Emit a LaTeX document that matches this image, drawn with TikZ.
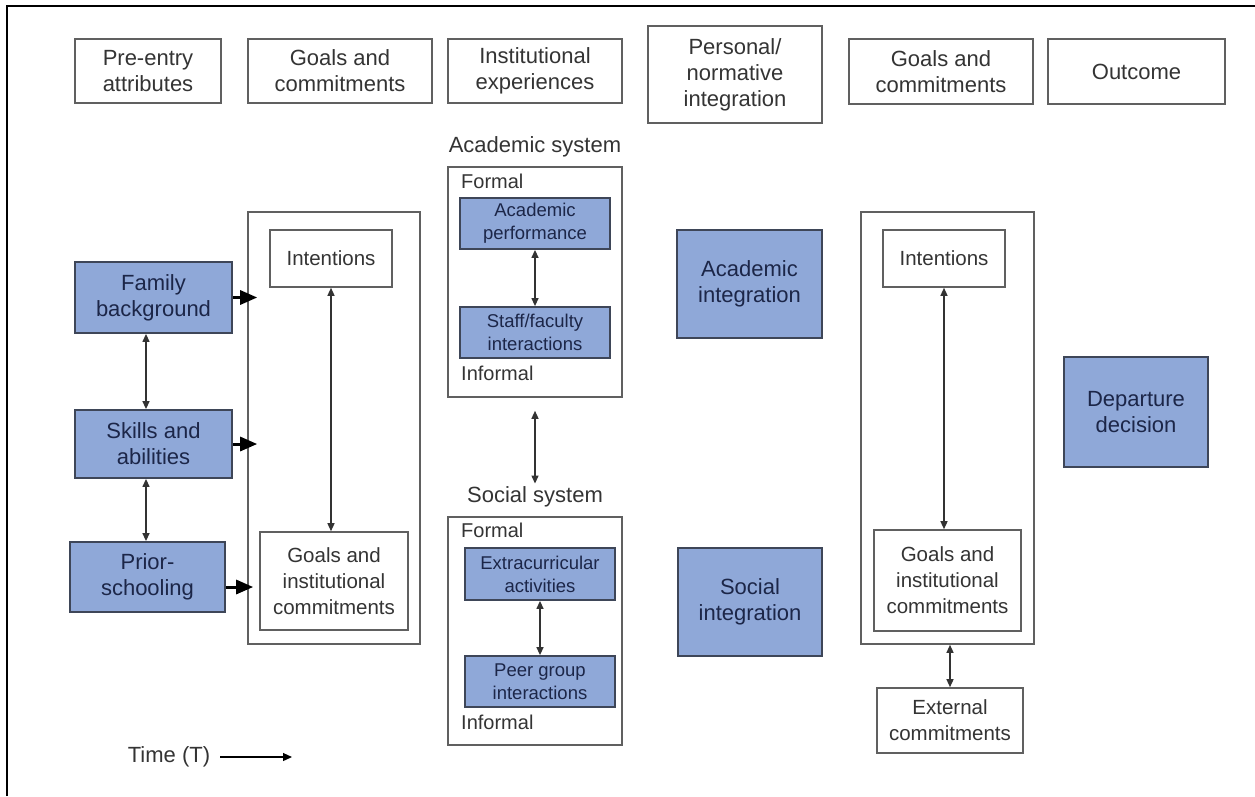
\documentclass[tikz,border=0pt]{standalone}
\usepackage{fontspec}
\setmainfont{Liberation Sans}
\usetikzlibrary{arrows.meta}

\definecolor{boxblue}{RGB}{143,168,216}
\definecolor{bluetext}{RGB}{28,38,72}
\definecolor{blueline}{RGB}{62,70,88}
\definecolor{greyline}{RGB}{96,96,96}
\definecolor{greytext}{RGB}{52,52,52}

\tikzset{
	header/.style={draw=greyline, line width=1.8pt, fill=white, text=greytext, align=center, inner sep=0pt, font=\fontsize{22}{26}\selectfont},
	bluebox/.style={draw=blueline, line width=1.8pt, fill=boxblue, text=bluetext, align=center, inner sep=0pt, font=\fontsize{22}{26}\selectfont},
	smallblue/.style={bluebox, font=\fontsize{18.5}{23}\selectfont},
	outerbox/.style={draw=greyline, line width=1.6pt, inner sep=0pt},
	whitebox/.style={draw=greyline, line width=1.6pt, fill=white, text=greytext, align=center, inner sep=0pt, font=\fontsize{20.5}{26}\selectfont},
	tag/.style={text=greytext, inner sep=0pt, font=\fontsize{20}{24}\selectfont},
	link/.style={draw=black!80, line width=1.3pt, {Triangle[length=8pt,width=7pt]}-{Triangle[length=8pt,width=7pt]}},
	feed/.style={draw=black, line width=3pt, -{Triangle[length=17pt,width=14pt]}}
}

\begin{document}
\begin{tikzpicture}[x=1pt, y=-1pt]
	\useasboundingbox (0,0) rectangle (1255,796);
	\draw[line width=2.2pt] (7,796) -- (7,6) -- (1255,6);

	\node[header, minimum width=146pt, minimum height=64pt] (pre) at (148,71) {Pre-entry\\attributes};
	\node[header, minimum width=184pt, minimum height=64pt] (goalsA) at (340,71) {Goals and\\commitments};
	\node[header, minimum width=174pt, minimum height=64pt] (inst) at (535,71) {Institutional\\experiences};
	\node[header, minimum width=174pt, minimum height=97pt] (personal) at (735,74.5) {Personal/\\normative\\integration};
	\node[header, minimum width=184pt, minimum height=65pt] (goalsB) at (941,71.5) {Goals and\\commitments};
	\node[header, minimum width=177pt, minimum height=65pt] (outcome) at (1136.5,71.5) {Outcome};

	\node[bluebox, minimum width=157pt, minimum height=71pt] (family) at (153.5,297.5) {Family\\background};
	\node[bluebox, minimum width=157pt, minimum height=68pt] (skills) at (153.5,444) {Skills and\\abilities};
	\node[bluebox, minimum width=155pt, minimum height=70pt] (prior) at (147.5,577) {Prior-\\schooling};

	\node[outerbox, minimum width=172pt, minimum height=432pt] (leftouter) at (334,428) {};
	\node[whitebox, minimum width=122pt, minimum height=57pt] (intA) at (331,258.5) {Intentions};
	\node[whitebox, minimum width=148pt, minimum height=98pt] (commitA) at (334,581) {Goals and\\institutional\\commitments};

	\node[tag, font=\fontsize{22}{26}\selectfont] (acadlabel) at (535,147) {Academic system};
	\node[outerbox, minimum width=174pt, minimum height=230pt] (acadsys) at (535,282) {};
	\node[tag, anchor=west] (aformal) at (461,181.5) {Formal};
	\node[smallblue, minimum width=150pt, minimum height=51pt] (perform) at (535,223.5) {Academic\\performance};
	\node[smallblue, minimum width=150pt, minimum height=51pt] (staff) at (535,332.5) {Staff/faculty\\interactions};
	\node[tag, anchor=west] (ainformal) at (461,373) {Informal};

	\node[tag, font=\fontsize{22}{26}\selectfont] (soclabel) at (535,497) {Social system};
	\node[outerbox, minimum width=174pt, minimum height=228pt] (socsys) at (535,631) {};
	\node[tag, anchor=west] (sformal) at (461,530) {Formal};
	\node[smallblue, minimum width=150pt, minimum height=52pt] (extra) at (540,574) {Extracurricular\\activities};
	\node[smallblue, minimum width=150pt, minimum height=51pt] (peer) at (540,681.5) {Peer group\\interactions};
	\node[tag, anchor=west] (sinformal) at (461,722.5) {Informal};

	\node[bluebox, minimum width=145pt, minimum height=108pt] (acadint) at (749.5,284) {Academic\\integration};
	\node[bluebox, minimum width=144pt, minimum height=108pt] (socint) at (750,602) {Social\\integration};

	\node[outerbox, minimum width=173pt, minimum height=432pt] (rightouter) at (947.5,428) {};
	\node[whitebox, minimum width=122pt, minimum height=57pt] (intB) at (944,258.5) {Intentions};
	\node[whitebox, minimum width=147pt, minimum height=101pt] (commitB) at (947.5,580.5) {Goals and\\institutional\\commitments};
	\node[whitebox, minimum width=146pt, minimum height=65pt] (external) at (950,720.5) {External\\commitments};

	\node[bluebox, minimum width=144pt, minimum height=110pt] (departure) at (1136,412) {Departure\\decision};

	\node[tag, font=\fontsize{22}{26}\selectfont] (time) at (169,757) {Time (T)};
	\coordinate (timeend) at (292,757);

	\draw[feed] (family.east) -- ([xshift=10pt]family.east -| leftouter.west);
	\draw[feed] (skills.east) -- ([xshift=10pt]skills.east -| leftouter.west);
	\draw[feed] ([yshift=-10pt]prior.east) -- ([xshift=6pt, yshift=-10pt]prior.east -| leftouter.west);

	\draw[link] ([xshift=-7.5pt]family.south) -- ([xshift=-7.5pt]skills.north);
	\draw[link] ([xshift=-7.5pt]skills.south) -- ([xshift=-7.5pt]skills.south |- prior.north);
	\draw[link] (intA.south) -- (intA.south |- commitA.north);

	\draw[link] (perform.south) -- (staff.north);
	\draw[link] (extra.south) -- (peer.north);
	\draw[link, shorten <=13pt, shorten >=3pt] (acadsys.south) -- (soclabel.north);

	\draw[link] (intB.south) -- (intB.south |- commitB.north);
	\draw[link] (external.north) -- (external.north |- rightouter.south);

	\draw[line width=1.3pt, -{Triangle[length=9pt,width=8pt]}] ([xshift=10pt]time.east) -- (timeend);
\end{tikzpicture}
\end{document}
